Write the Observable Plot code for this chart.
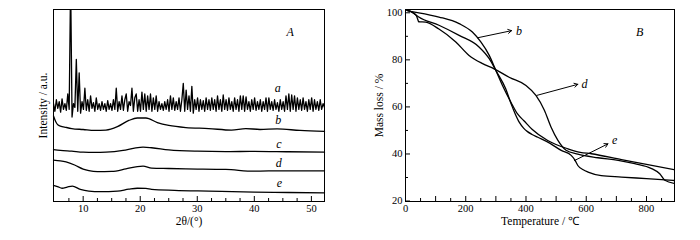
<!DOCTYPE html>
<html><head><meta charset="utf-8">
<script src="https://cdn.jsdelivr.net/npm/d3@7"></script>
<script src="https://cdn.jsdelivr.net/npm/@observablehq/plot@0.6"></script>
<style>
body{margin:0;background:#fff;}
#wrap{display:flex;width:700px;height:240px;background:#fff;}
</style>
</head><body><div id="wrap"></div>
<script>
// ---------- Panel A: XRD ----------
const xrdStart = 4.8, xrdStep = 0.25;
const xrdA = [
 51,47,53,48.5,52,46.5,53.5,48,51,47.5,
 56,48,115,44,51,49,74,47,67,46,
 52,48,59,47.5,53,47,55,48.5,51.5,47,
 54,48,51,47.5,52,48,51,47,52.5,48,
 51,47.5,53,48,59,47,52,48,55,47.5,
 53,56,47,52,50,59,47,54,56,47,
 53,47,57,48,56,47,55,48,56,47,
 54,48,55,47,52,48,51,47.5,52,48,
 53,47,55,48,54,47.5,52,48,54,47,
 53,61.5,47,58,48,55,47,60,46,53,
 48,54,47,53,48,52.5,47,54,48,53,
 47.5,54,48,53,47,55,48,53,47,55.5,
 48,53,47.5,54,48,52,47,54,48,53,
 47,55,48,55,47,54.5,48,52,47,53,
 48,54,47.5,52,48,53,47,52,48,54,
 47,54,48,52,47.5,53,48,51.5,47,53,
 48,52,47,55,48,56,47,55.5,48,55,
 47,54,48,53,47.5,54,48,52,47,53,
 48,54,47,53,48,52,47.5,53,48,51,49
];
const xrdB_x = [4.8,5.2,5.6,6,7,8,10,12,14,16,18,19.5,21,23,25,28,32,36,38.5,41,44,48,52.3];
const xrdB_y = [44.5,41.5,39.8,39.3,38.6,38,37.5,37,37.2,39,42.2,43.5,43.5,41.1,39.6,38.5,38,37.2,38,37.5,37.8,37,36.5];
const xrdC_x = [4.8,6,8,10,12,14,17,19,20.5,22,25,30,35,40,46,52.3];
const xrdC_y = [27,26.6,26.2,25.7,25.6,25.7,26.6,27.8,28.3,28,26.9,26.2,26,26.1,25.9,25.7];
const xrdD_x = [4.8,6,7,8.5,10,11,12.5,15,17.5,19.5,20.5,22,25,28,35,40,45,52.3];
const xrdD_y = [21.6,21.2,20.6,19,16.9,16.1,15.6,15.7,17,18.2,18.4,17.4,17.2,17.0,16.7,15.8,16,16];
const xrdE_x = [4.8,5.5,6.3,7.2,8.1,9.5,11,13,16,18,19.5,21,22,26,32,40,46,52.3];
const xrdE_y = [8.4,7.8,6.9,7.5,8.0,6.3,5.4,5.1,5.4,6.4,6.9,6.8,6.3,5.8,5.4,4.9,4.7,4.5];
const xrdMajorTicks = [10,20,30,40,50];
const xrdMinorTicks = [7.5,12.5,15,17.5,22.5,25,27.5,32.5,35,37.5,42.5,45,47.5];
const xrdLabelNames = ["a","b","c","d","e"];
const xrdLabelX = [44.1,44.2,44.3,44.3,44.4];
const xrdLabelY = [58.9,42.2,29.7,19.8,9.4];
const xrdTitleX = "2θ/(°)";
const xrdTitleY = "Intensity / a.u.";
const panelA = "A";

// ---------- Panel B: TGA ----------
const tgaB_T = [5,20,44,111,178,222,250,278,300,322,350,372,394,420,472,539,580,617,717,800,893];
const tgaB_M = [101,100.5,100,98.2,95.4,91.8,87.6,81.9,75.5,69.1,62,57,54,50.5,45.7,42.2,40.7,40.1,37.6,35.6,33.3];
const tgaE_T = [5,20,30,44,111,178,244,278,300,333,350,365,378,392,405,420,439,480,517,550,562,572,590,606,650,717,800,893];
const tgaE_M = [101,100.4,99.5,98.2,94.7,90.4,85.5,80.5,75.5,67.6,61.5,56.8,53.4,51,49.5,48.3,47.1,44.5,41.5,39.4,37.5,35.1,33.3,32.3,30.8,30.2,29.5,28.7];
const tgaD_T = [5,20,35,40,44,67,111,167,211,256,294,344,400,433,461,483,506,533,572,639,706,761,817,844,861,893];
const tgaD_M = [101,100.4,99,97.5,96.2,96,93.1,87.6,81.9,78.4,76.2,72.6,69.1,64.9,58.6,51.5,45.8,41.6,39.9,38.4,37.3,35.9,33.8,31.6,28.8,27.5];
const tgaXTicks = [0,200,400,600,800];
const tgaXMajor = [100,200,300,400,500,600,700,800];
const tgaXMinor = [50,150,250,350,450,550,650,750,850];
const tgaYTicks = [20,40,60,80,100];
const tgaYMinor = [30,50,70,90];
const tgaArrowX1 = [240,436,561];
const tgaArrowY1 = [89.4,64.9,37.2];
const tgaArrowX2 = [352,572,672];
const tgaArrowY2 = [92.4,69.6,44.3];
const tgaLabelNames = ["b","d","e"];
const tgaLabelX = [377,594,694];
const tgaLabelY = [92.1,69.6,46];
const tgaTitleX = "Temperature / ℃";
const tgaTitleY = "Mass loss / %";
const panelB = "B";

const font = "'Liberation Serif', 'Times New Roman', serif";
const style = {fontFamily: font, fontSize: "10.5px", background: "white", color: "black", overflow: "visible"};
const zip = (xs, ys) => xs.map((x, i) => ({x, y: ys[i]}));

const aData = xrdA.map((y, i) => ({x: xrdStart + i * xrdStep, y}));
const xrdLines = [zip(xrdB_x, xrdB_y), zip(xrdC_x, xrdC_y), zip(xrdD_x, xrdD_y), zip(xrdE_x, xrdE_y)];
const xrdLabels = xrdLabelNames.map((t, i) => ({t, x: xrdLabelX[i], y: xrdLabelY[i]}));

const H = 240, MT = 9, MB = 39, PH = H - MT - MB;

const left = Plot.plot({
  width: 350, height: H, marginLeft: 53, marginRight: 26, marginTop: MT, marginBottom: MB,
  style,
  x: {domain: [4.8, 52.3]},
  y: {domain: [0, 100], axis: null},
  marks: [
    Plot.line(aData, {x: "x", y: "y", stroke: "black", strokeWidth: 1.3, clip: true}),
    ...xrdLines.map(d => Plot.line(d, {x: "x", y: "y", stroke: "black", strokeWidth: 1.3, curve: "monotone-x"})),
    Plot.frame({stroke: "black", strokeWidth: 1}),
    Plot.tickX(xrdMinorTicks, {x: d => d, insetTop: PH - 3, stroke: "black"}),
    Plot.tickX(xrdMajorTicks, {x: d => d, insetTop: PH - 5, stroke: "black"}),
    Plot.axisX({ticks: xrdMajorTicks, tickSize: 0, tickPadding: 3, label: null}),
    Plot.text([xrdTitleX], {text: d => d, frameAnchor: "bottom", dy: 23, fontSize: 11.5, textAnchor: "middle"}),
    Plot.text([xrdTitleY], {text: d => d, frameAnchor: "left", rotate: -90, dx: -10, fontSize: 11.5, textAnchor: "middle"}),
    Plot.text(xrdLabels, {x: "x", y: "y", text: "t", fontStyle: "italic", fontSize: 12}),
    Plot.text([panelA], {text: d => d, x: 46.3, y: 88, fontStyle: "italic", fontSize: 12})
  ]
});

const tgaLines = [zip(tgaB_T, tgaB_M), zip(tgaE_T, tgaE_M), zip(tgaD_T, tgaD_M)];
const arrows = tgaArrowX1.map((x1, i) => ({x1, y1: tgaArrowY1[i], x2: tgaArrowX2[i], y2: tgaArrowY2[i]}));
const tgaLabels = tgaLabelNames.map((t, i) => ({t, x: tgaLabelX[i], y: tgaLabelY[i]}));

const right = Plot.plot({
  width: 350, height: H, marginLeft: 55, marginRight: 26, marginTop: MT, marginBottom: MB,
  style,
  x: {domain: [0, 893]},
  y: {domain: [19.8, 101.4]},
  marks: [
    ...tgaLines.map(d => Plot.line(d, {x: "x", y: "y", stroke: "black", strokeWidth: 1.3, curve: "monotone-x", clip: true})),
    Plot.arrow(arrows, {x1: "x1", y1: "y1", x2: "x2", y2: "y2", stroke: "black", strokeWidth: 1, headLength: 6}),
    Plot.frame({stroke: "black", strokeWidth: 1}),
    Plot.tickX(tgaXMinor, {x: d => d, insetTop: PH - 3, stroke: "black"}),
    Plot.tickX(tgaXMajor, {x: d => d, insetTop: PH - 5, stroke: "black"}),
    Plot.tickY(tgaYMinor, {y: d => d, insetRight: 269 - 3, stroke: "black"}),
    Plot.tickY(tgaYTicks, {y: d => d, insetRight: 269 - 5, stroke: "black"}),
    Plot.axisX({ticks: tgaXTicks, tickSize: 0, tickPadding: 3, label: null}),
    Plot.axisY({ticks: tgaYTicks, tickSize: 0, tickPadding: 3, label: null}),
    Plot.text([tgaTitleX], {text: d => d, frameAnchor: "bottom", dy: 23, fontSize: 11.5, textAnchor: "middle"}),
    Plot.text([tgaTitleY], {text: d => d, frameAnchor: "left", rotate: -90, dx: -26, fontSize: 11.5, textAnchor: "middle"}),
    Plot.text(tgaLabels, {x: "x", y: "y", text: "t", fontStyle: "italic", fontSize: 12}),
    Plot.text([panelB], {text: d => d, x: 777, y: 91.8, fontStyle: "italic", fontSize: 12})
  ]
});

document.getElementById("wrap").append(left, right);
</script></body></html>
